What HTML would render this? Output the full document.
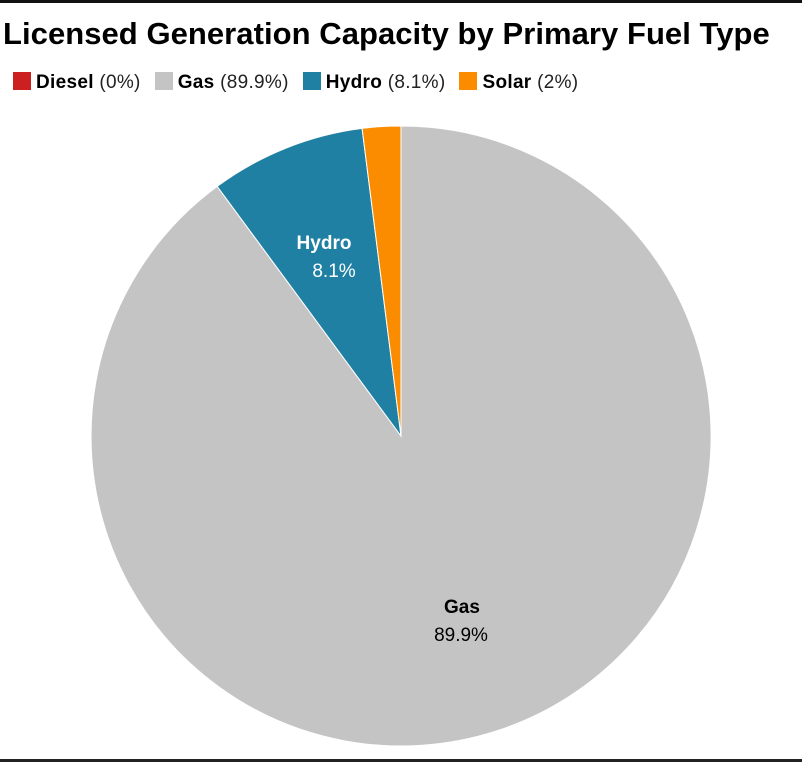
<!DOCTYPE html>
<html><head><style>
body{margin:0;width:802px;height:762px;background:#fff;overflow:hidden;position:relative;font-family:"Liberation Sans",sans-serif;}
.top{position:absolute;left:0;top:0;width:802px;height:3px;background:#111;}
.bot{position:absolute;left:0;top:759px;width:802px;height:3px;background:#222;}
.title{position:absolute;left:3px;top:16px;font-size:31px;font-weight:bold;color:#000;white-space:nowrap;letter-spacing:0.05px;}
.leg{position:absolute;top:72px;left:13px;font-size:19px;color:#222;white-space:nowrap;letter-spacing:0.3px;}
.leg span.sw{display:inline-block;width:18px;height:18px;vertical-align:-2px;margin-right:5px;}
.leg b{color:#000}
.item{margin-right:14px}
</style></head><body>
<div class="top"></div><div class="bot"></div>
<div class="title">Licensed Generation Capacity by Primary Fuel Type</div>
<div class="leg"><span class="item"><span class="sw" style="background:#cc1f1f"></span><b>Diesel</b> (0%)</span><span class="item"><span class="sw" style="background:#c4c4c4"></span><b>Gas</b> (89.9%)</span><span class="item"><span class="sw" style="background:#1f80a3"></span><b>Hydro</b> (8.1%)</span><span class="item"><span class="sw" style="background:#fb8c00"></span><b>Solar</b> (2%)</span></div>
<svg width="802" height="762" style="position:absolute;left:0;top:0">
<path d="M401,436 L401,126 A310,310 0 1,1 217.2,186.4 Z" fill="#c4c4c4" stroke="#fff" stroke-width="1"/>
<path d="M401,436 L217.2,186.4 A310,310 0 0,1 362.1,128.4 Z" fill="#1f80a3" stroke="#fff" stroke-width="1"/>
<path d="M401,436 L362.1,128.4 A310,310 0 0,1 401,126 Z" fill="#fb8c00" stroke="#fff" stroke-width="1"/>
<g font-family="Liberation Sans, sans-serif" font-size="19" text-anchor="middle">
<text x="324" y="249" fill="#fff" font-weight="bold">Hydro</text>
<text x="334" y="277" fill="#fff">8.1%</text>
<text x="462" y="613" fill="#000" font-weight="bold">Gas</text>
<text x="461" y="641" fill="#000">89.9%</text>
</g>
</svg>
</body></html>
